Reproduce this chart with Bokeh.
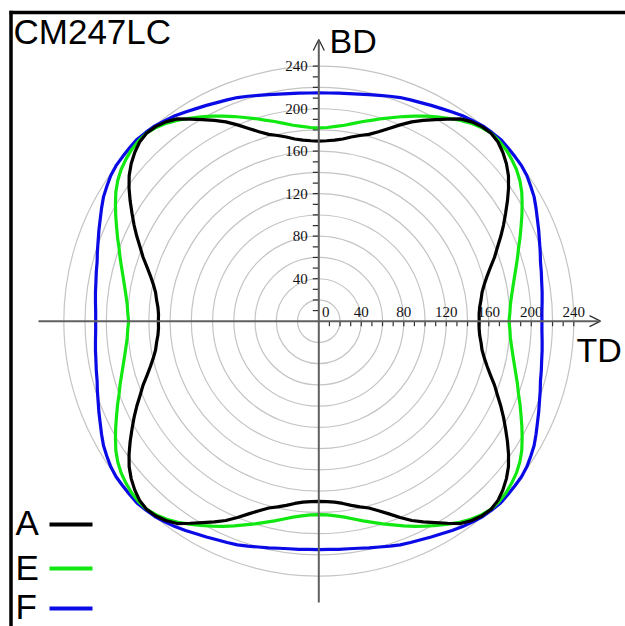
import numpy as np
from bokeh.plotting import figure
from bokeh.models import Range1d, Arrow, OpenHead
from bokeh.core.properties import value
from bokeh.embed import file_html
from bokeh.resources import INLINE

# ---------------- data ----------------
title = "CM247LC"
x_label = "TD"
y_label = "BD"
series_names = ["A", "E", "F"]
series_colors = ["#000000", "#11e811", "#0a0ae6"]

# angle (deg, measured from TD) for one quadrant; curves are symmetric about both axes
angles_deg = [0, 2.5, 5, 7.5, 10, 12.5, 15, 17.5, 20, 22.5, 25, 27.5, 30, 32.5, 35, 37.5, 40, 42.5, 45,
              47.5, 50, 52.5, 55, 57.5, 60, 62.5, 65, 67.5, 70, 72.5, 75, 77.5, 80, 82.5, 85, 87.5, 90]
r_A = [151, 151, 152, 154, 156, 159.5, 164, 169.5, 176, 182, 189, 196, 203, 210.5, 218, 225, 230.5, 235, 238.5,
       240, 239, 236.5, 232.5, 225.5, 219, 213, 207, 200, 193, 187, 182, 179, 176, 173, 171, 170, 169.5]
r_E = [179, 180, 181, 183, 185.5, 188.5, 192, 196, 200, 205, 210, 215.5, 221, 226.5, 231, 234.5, 237, 239, 240,
       240, 238, 235, 231, 226.5, 222, 217.5, 213, 208.5, 204, 200, 196, 192.5, 189, 186, 184, 182.5, 182]
r_F = [210, 210.2, 211, 212, 213, 214.5, 216, 218.5, 221, 224, 227, 230.5, 234, 236.5, 239, 240.5, 241, 241.5, 242,
       241, 240, 238, 236, 233.5, 231, 229, 227, 225.5, 224, 222, 220, 218.5, 217, 216, 215.5, 215, 215]

grid_radii = [20, 40, 60, 80, 100, 120, 140, 160, 180, 200, 220, 240]
tick_values = [10, 20, 30, 40, 50, 60, 70, 80, 90, 100, 110, 120,
               130, 140, 150, 160, 170, 180, 190, 200, 210, 220, 230, 240]
label_values = [40, 80, 120, 160, 200, 240]
label_texts = ["40", "80", "120", "160", "200", "240"]

# ---------------- geometry ----------------
W, H = 625, 626
K = 1.0625               # px per unit
CX, CY = 318.3, 320.7    # center in px

def X(px_x):
    return (px_x - CX) / K

def Y(px_y):
    return (CY - px_y) / K

def U(px):
    return px / K

p = figure(width=W, height=H, output_backend="svg", toolbar_location=None,
           x_range=Range1d(-CX / K, (W - CX) / K), y_range=Range1d(-(H - CY) / K, CY / K),
           x_axis_type=None, y_axis_type=None, min_border=0)
p.grid.visible = False
p.outline_line_color = None
p.background_fill_color = "white"
p.border_fill_color = "white"

# gray concentric circles
p.circle(x=[0] * len(grid_radii), y=[0] * len(grid_radii), radius=grid_radii,
         fill_color=None, line_color="#c4c4c4", line_width=1.2)

# axes with arrows
axis_col = "#606060"
p.add_layout(Arrow(end=OpenHead(size=11, line_color="#303030", line_width=1.3),
                   x_start=X(38), y_start=0, x_end=X(600), y_end=0,
                   line_color=axis_col, line_width=2))
p.add_layout(Arrow(end=OpenHead(size=11, line_color="#303030", line_width=1.3),
                   x_start=0, y_start=Y(602), x_end=0, y_end=Y(39),
                   line_color=axis_col, line_width=2))

tv = np.array(tick_values, dtype=float)
# x ticks below the axis
p.segment(x0=tv, y0=np.zeros_like(tv), x1=tv, y1=np.full_like(tv, -U(5)),
          line_color="#303030", line_width=1.2)
# y ticks to the left of the axis
p.segment(x0=np.zeros_like(tv), y0=tv, x1=np.full_like(tv, -U(6)), y1=tv,
          line_color="#303030", line_width=1.2)

serif = value("Liberation Serif")
lv = np.array(label_values, dtype=float)
p.text(x=lv, y=np.full_like(lv, U(4)), text=label_texts, text_font=serif,
       text_font_size="15px", text_align="center", text_baseline="bottom", text_color="#111111")
p.text(x=[U(7)], y=[U(4)], text=["0"], text_font=serif,
       text_font_size="15px", text_align="center", text_baseline="bottom", text_color="#111111")
p.text(x=np.full_like(lv, -U(11)), y=lv, text=label_texts, text_font=serif,
       text_font_size="15px", text_align="right", text_baseline="middle", text_color="#111111")

# curves
th_q = np.radians(np.array(angles_deg, dtype=float))

def full_loop(rq):
    rq = np.array(rq, dtype=float)
    th = np.concatenate([th_q, np.pi - th_q[::-1][1:], np.pi + th_q[1:], 2 * np.pi - th_q[::-1][1:]])
    rr = np.concatenate([rq, rq[::-1][1:], rq[1:], rq[::-1][1:]])
    return rr * np.cos(th), rr * np.sin(th)

for rq, col in [(r_F, series_colors[2]), (r_E, series_colors[1]), (r_A, series_colors[0])]:
    xs, ys = full_loop(rq)
    p.line(xs, ys, line_color=col, line_width=3.2, line_join="round")

sans = value("Liberation Sans")
# title and axis names (y = vertical centre of capitals)
p.text(x=[X(13)], y=[Y(31)], text=[title], text_font=sans, text_font_size="35px",
       text_align="left", text_baseline="middle", text_color="#000000")
p.text(x=[X(329)], y=[Y(40)], text=[y_label], text_font=sans, text_font_size="34px",
       text_align="left", text_baseline="middle", text_color="#000000")
p.text(x=[X(576)], y=[Y(349)], text=[x_label], text_font=sans, text_font_size="34px",
       text_align="left", text_baseline="middle", text_color="#000000")

# legend
leg_text_y = [522, 567, 606]
leg_line = [524, 568, 608]
for name, col, yt, yl in zip(series_names, series_colors, leg_text_y, leg_line):
    p.text(x=[X(15)], y=[Y(yt)], text=[name], text_font=sans, text_font_size="35px",
           text_align="left", text_baseline="middle", text_color="#000000")
    p.line([X(49), X(92)], [Y(yl), Y(yl)], line_color=col, line_width=4)

# frame (top and left)
p.line([X(9), X(640)], [Y(12), Y(12)], line_color="#000000", line_width=3.5)
p.line([X(10.5), X(10.5)], [Y(10.3), Y(640)], line_color="#000000", line_width=3.5)

open("out.html", "w").write(file_html(p, INLINE))
